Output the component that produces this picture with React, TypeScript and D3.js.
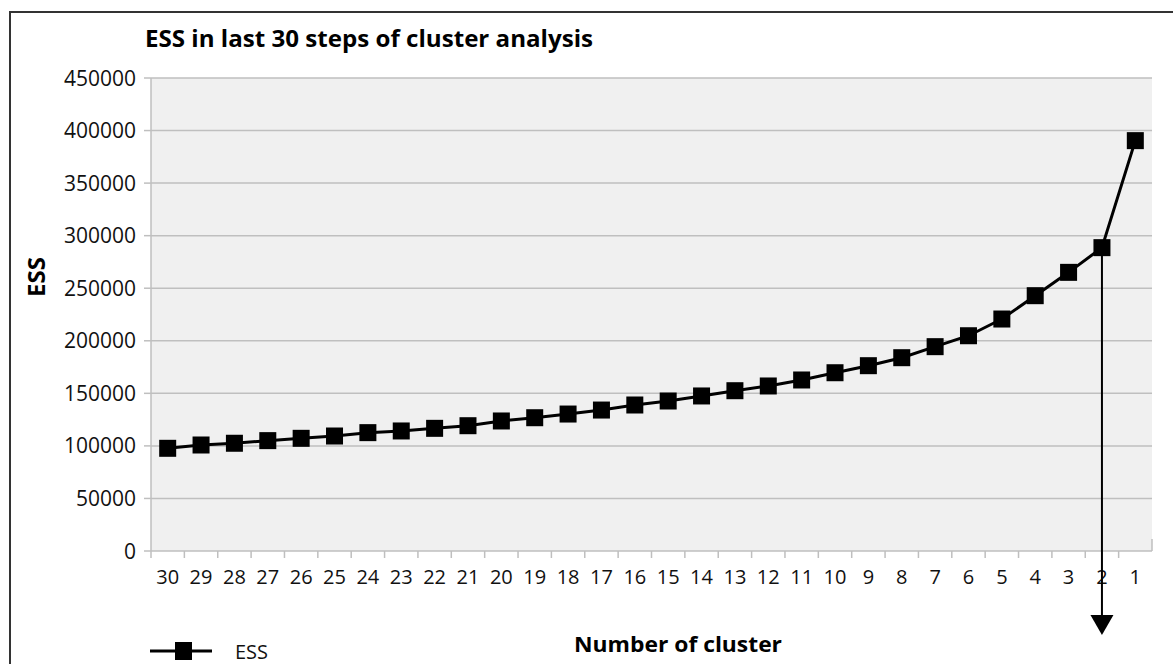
import React from "react";
import * as d3 from "d3";

const clusters = [
  "30", "29", "28", "27", "26", "25", "24", "23", "22", "21",
  "20", "19", "18", "17", "16", "15", "14", "13", "12", "11",
  "10", "9", "8", "7", "6", "5", "4", "3", "2", "1",
];
const ess = [
  97700, 100850, 102500, 105000, 107200, 109400, 112600, 114200, 116700, 119200,
  123700, 126800, 130300, 134100, 138900, 142700, 147500, 152500, 157000, 162700,
  169600, 176300, 183900, 194400, 204800, 220700, 242900, 265100, 288600, 390400,
];
const yTicks = [0, 50000, 100000, 150000, 200000, 250000, 300000, 350000, 400000, 450000];
const markedCluster = "2";

const W = 1173;
const H = 664;
const left = 151;
const right = 1152;
const top = 78;
const bottom = 551;
const font = "'Open Sans', 'Noto Sans', sans-serif";
const grid = "#bfbfbf";

export default function App() {
  const x = d3.scaleBand<string>().domain(clusters).range([left, right]);
  const y = d3.scaleLinear().domain([0, 450000]).range([bottom, top]);
  const cx = (c: string) => (x(c) as number) + x.bandwidth() / 2;

  const line = d3
    .line<number>()
    .x((_, i) => cx(clusters[i]))
    .y((d) => y(d));

  const ax = cx(markedCluster);
  const ay = y(ess[clusters.indexOf(markedCluster)]);

  return (
    <svg
      width={W}
      height={H}
      style={{ position: "absolute", left: 0, top: 0, background: "white" }}
      fontFamily={font}
    >
      <rect x={10} y={12} width={1200} height={700} fill="white" stroke="#333" strokeWidth={2} />

      <text x={145} y={47} fontSize={24} fontWeight="bold" fill="#000" textLength={448} lengthAdjust="spacingAndGlyphs">
        ESS in last 30 steps of cluster analysis
      </text>

      <rect x={left} y={top} width={right - left} height={bottom - top} fill="#f0f0f0" />

      {yTicks.map((t) => (
        <g key={t}>
          {t > 0 && (
            <line x1={left} x2={right} y1={y(t)} y2={y(t)} stroke={grid} strokeWidth={1.5} />
          )}
          <line x1={144} x2={left} y1={y(t)} y2={y(t)} stroke={grid} strokeWidth={1.5} />
          <text x={136} y={y(t)} dy="0.36em" textAnchor="end" fontSize={21} fill="#111">
            {t}
          </text>
        </g>
      ))}

      <line x1={left} x2={left} y1={top} y2={bottom + 7} stroke={grid} strokeWidth={1.5} />
      <line x1={left} x2={right} y1={bottom} y2={bottom} stroke={grid} strokeWidth={1.5} />
      <line x1={right} x2={right} y1={bottom - 12} y2={bottom} stroke={grid} strokeWidth={1.5} />

      {clusters.map((c, i) => (
        <g key={c}>
          {i > 0 && (
            <line x1={x(c)} x2={x(c)} y1={bottom} y2={bottom + 7} stroke={grid} strokeWidth={1.5} />
          )}
          <text x={cx(c)} y={584} textAnchor="middle" fontSize={20} fill="#111">
            {c}
          </text>
        </g>
      ))}

      <path d={line(ess) as string} fill="none" stroke="#000" strokeWidth={3} />
      {ess.map((v, i) => (
        <rect key={i} x={cx(clusters[i]) - 8.5} y={y(v) - 8.5} width={17} height={17} fill="#000" />
      ))}

      <line x1={ax} x2={ax} y1={ay} y2={618} stroke="#000" strokeWidth={2} />
      <path d={`M${ax - 11.5},615 L${ax + 11.5},615 L${ax},635 Z`} fill="#000" />

      <text
        transform={`translate(45,277) rotate(-90)`}
        textAnchor="middle"
        fontSize={24}
        fontWeight="bold"
        fill="#000"
      >
        ESS
      </text>

      <text x={574} y={652} fontSize={22} fontWeight="bold" fill="#000" textLength={208} lengthAdjust="spacingAndGlyphs">
        Number of cluster
      </text>

      <line x1={150} x2={212} y1={651} y2={651} stroke="#000" strokeWidth={3} />
      <rect x={175} y={642} width={17} height={18} fill="#000" />
      <text x={235} y={659} fontSize={20} fill="#111">
        ESS
      </text>
    </svg>
  );
}
